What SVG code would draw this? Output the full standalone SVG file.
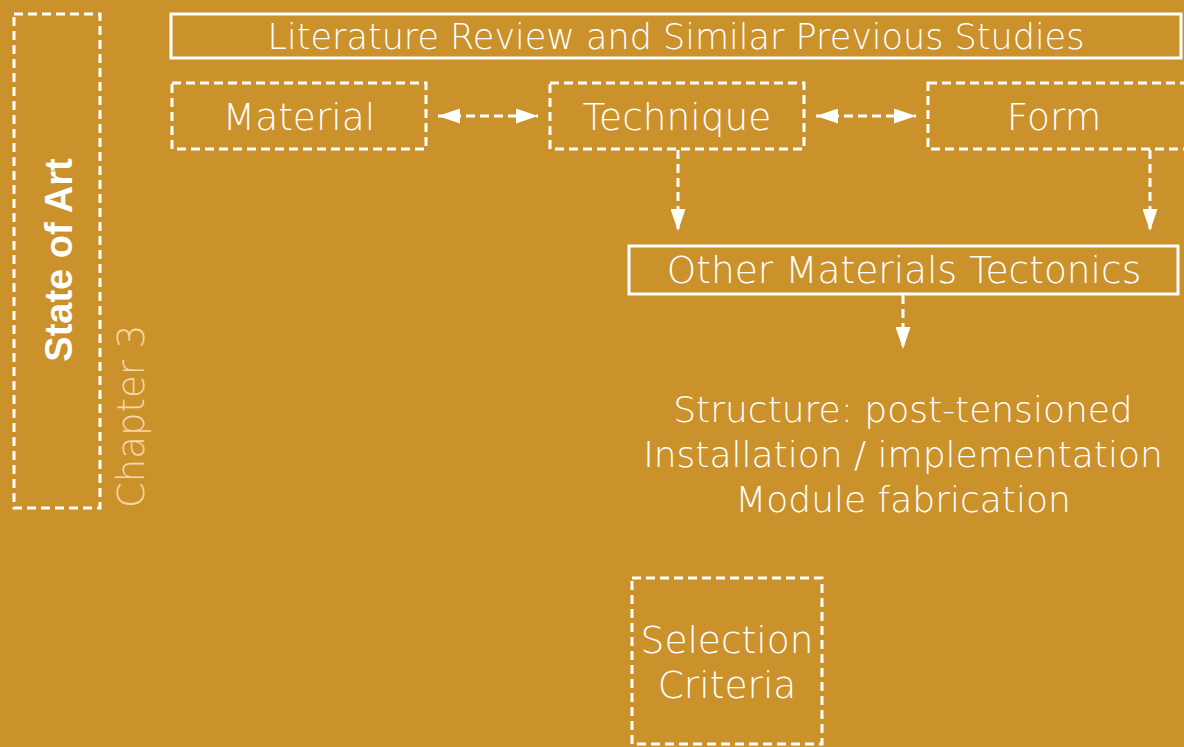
<svg xmlns="http://www.w3.org/2000/svg" width="1184" height="747" viewBox="0 0 1184 747">
<defs>
<style>
.bg{fill:#CB912B}
.dash{fill:none;stroke:#fff;stroke-width:3;stroke-dasharray:9 5}
.solid{fill:none;stroke:#fff;stroke-width:3}
.t{font-family:"DejaVu Sans","Liberation Sans",sans-serif;font-weight:200;fill:#fff;font-size:37.5px;text-anchor:middle}
.t2{font-size:36px}
.t3{font-size:35px}
.conn{fill:none;stroke:#fff;stroke-width:3;stroke-dasharray:9 5}
</style>
<marker id="ah" viewBox="0 0 10 10" refX="10" refY="5" markerWidth="22" markerHeight="15" markerUnits="userSpaceOnUse" preserveAspectRatio="none" orient="auto-start-reverse">
<path d="M0,0 L10,5 L0,10 Z" fill="#fff"/>
</marker>
</defs>
<rect class="bg" x="0" y="0" width="1184" height="747"/>

<g id="state-of-art">
<rect class="dash" x="14" y="14" width="86" height="494"/>
<text transform="translate(72,260) rotate(-90)" style="font-family:'Liberation Sans','DejaVu Sans',sans-serif;font-weight:bold;font-size:38px;fill:#fff;text-anchor:middle">State of Art</text>
</g>
<g id="chapter">
<text transform="translate(144,508) rotate(-90)" style="font-family:'DejaVu Sans','Liberation Sans',sans-serif;font-weight:200;font-size:37px;fill:#F6D9A6">Chapter 3</text>
</g>

<g id="literature">
<rect class="solid" x="171" y="14" width="1010" height="44"/>
<text class="t t3" x="676" y="49">Literature Review and Similar Previous Studies</text>
</g>
<g id="material">
<rect class="dash" x="172" y="83" width="254" height="66"/>
<text class="t" x="299" y="130">Material</text>
</g>
<g id="technique">
<rect class="dash" x="550" y="83" width="254" height="66"/>
<text class="t" x="677" y="130">Technique</text>
</g>
<g id="form">
<rect class="dash" x="928" y="83" width="260" height="66"/>
<text class="t" x="1054" y="130">Form</text>
</g>
<g id="other">
<rect class="solid" x="629" y="246" width="549" height="48"/>
<text class="t" x="904" y="283">Other Materials Tectonics</text>
</g>
<g id="aspects">
<text class="t t2" x="903" y="422">Structure: post-tensioned</text>
<text class="t t2" x="903" y="467">Installation / implementation</text>
<text class="t t2" x="903" y="512">Module fabrication</text>
</g>
<g id="selection">
<rect class="dash" x="632" y="578" width="190" height="166"/>
<text class="t" x="727" y="653">Selection</text>
<text class="t" x="727" y="698">Criteria</text>
</g>

<g id="connectors">
<line class="conn" x1="438" y1="116" x2="538" y2="116" marker-start="url(#ah)" marker-end="url(#ah)"/>
<line class="conn" x1="816" y1="116" x2="916" y2="116" marker-start="url(#ah)" marker-end="url(#ah)"/>
<line class="conn" x1="678" y1="150" x2="678" y2="231" marker-end="url(#ah)"/>
<line class="conn" x1="1150" y1="150" x2="1150" y2="231" marker-end="url(#ah)"/>
<line class="conn" x1="903" y1="295" x2="903" y2="349" marker-end="url(#ah)"/>
</g>
</svg>
